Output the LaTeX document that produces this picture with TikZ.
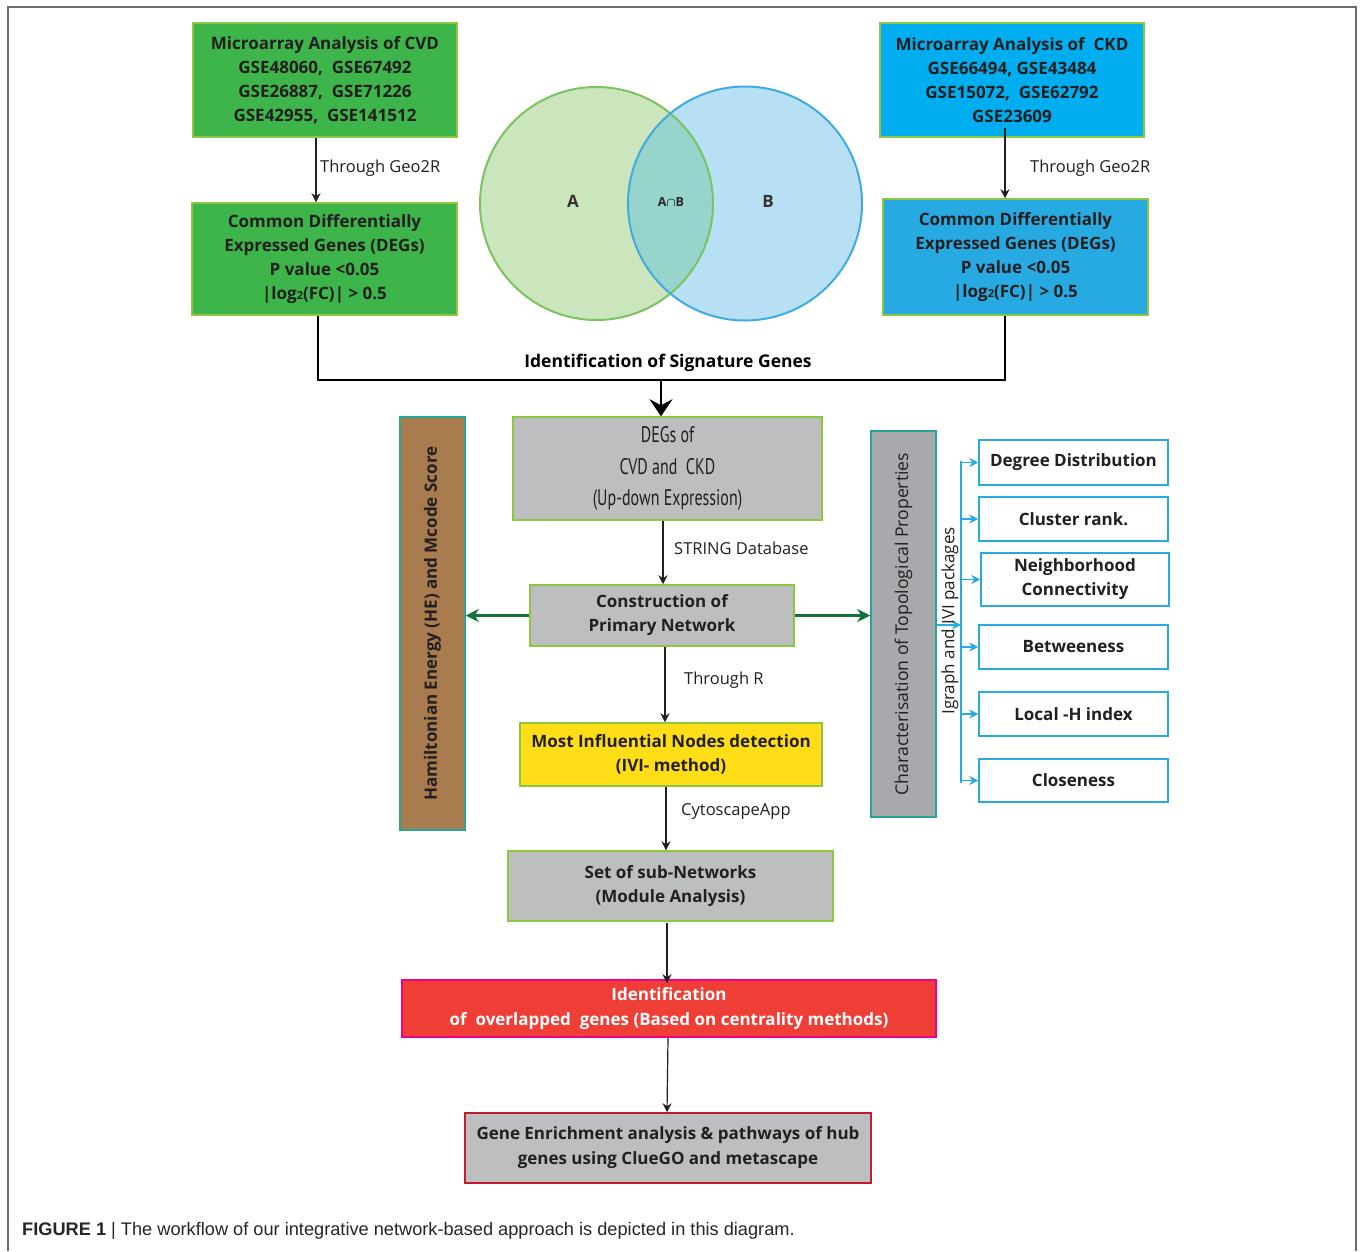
\documentclass[tikz,border=0pt]{standalone}
\usepackage{fontspec}
\setmainfont{Open Sans}
\newfontfamily\condfont[FakeStretch=0.71]{PT Sans}
\newfontfamily\capfont{Liberation Sans}
\usetikzlibrary{arrows.meta,calc}
\definecolor{lgreen}{RGB}{141,198,63}
\definecolor{cvdgreen}{RGB}{61,181,74}
\definecolor{ckdA}{RGB}{0,174,239}
\definecolor{ckdB}{RGB}{39,170,225}
\definecolor{boxgray}{RGB}{188,190,192}
\definecolor{chargray}{RGB}{167,169,172}
\definecolor{hebrown}{RGB}{169,124,80}
\definecolor{tealb}{RGB}{38,166,154}
\definecolor{ivi}{RGB}{255,222,23}
\definecolor{redfill}{RGB}{239,62,54}
\definecolor{magb}{RGB}{236,0,140}
\definecolor{darkred}{RGB}{190,30,45}
\definecolor{arrgreen}{RGB}{20,115,60}
\definecolor{lineblue}{RGB}{39,170,225}
\definecolor{vgfill}{RGB}{203,229,188}
\definecolor{vgline}{RGB}{125,194,96}
\definecolor{vbfill}{RGB}{183,224,245}
\definecolor{vbline}{RGB}{65,171,225}
\definecolor{vover}{RGB}{151,212,203}
\definecolor{txt}{RGB}{35,31,32}
\definecolor{framegray}{RGB}{110,110,110}
\tikzset{
  box/.style={draw=lgreen, line width=1.5pt, inner sep=0pt, align=center, text=txt,
    font=\bfseries\fontsize{17}{24}\selectfont},
  sidebox/.style={draw=tealb, line width=1.5pt, inner sep=0pt, align=center, text=txt},
  propbox/.style={draw=lineblue, fill=white, line width=1.5pt, inner sep=0pt, align=center,
    text=txt, minimum width=189pt, font=\bfseries\fontsize{17}{24}\selectfont},
  lbl/.style={anchor=west, inner sep=0pt, text=txt, font=\fontsize{16.5}{20}\selectfont},
  flow/.style={line width=1.2pt, txt, -{Stealth[length=9pt,width=9pt,inset=3pt]}},
  garrow/.style={line width=2.2pt, arrgreen, -{Stealth[length=13pt,width=13pt,inset=4pt]}},
  barrow/.style={line width=1.3pt, lineblue, -{Stealth[length=9pt,width=9pt,inset=3pt]}},
  thickline/.style={line width=2.8pt, black},
}
\begin{document}
\begin{tikzpicture}[x=1pt,y=-1pt]
\useasboundingbox (0,0) rectangle (1360,1251);
\fill[white] (0,0) rectangle (1360,1251);
% frame
\draw[framegray, line width=1.6pt] (8,1251) -- (8,7) -- (1356,7) -- (1356,1251);

% Venn diagram
\fill[vgfill] (596.5,203.5) circle (116.5);
\fill[vbfill] (745,203.5) circle (117);
\begin{scope}
  \clip (596.5,203.5) circle (116.5);
  \fill[vover] (745,203.5) circle (117);
\end{scope}
\draw[vgline, line width=2pt] (596.5,203.5) circle (116.5);
\draw[vbline, line width=2pt] (745,203.5) circle (117);
\node[font=\bfseries\fontsize{17}{20}\selectfont, text=black!80] (vA) at (573,201) {A};
\node[font=\bfseries\boldmath\fontsize{12.5}{14}\selectfont, text=black!85] (vAB) at (671,202) {A$\cap$B};
\node[font=\bfseries\fontsize{17}{20}\selectfont, text=black!80] (vB) at (768,201) {B};

% CVD side
\node[box, fill=cvdgreen, minimum width=264pt, minimum height=114pt] (cvd1) at (325,80)
  {Microarray Analysis of CVD\\GSE48060,\ \ GSE67492\\GSE26887,\ \ GSE71226\\GSE42955,\ \ GSE141512};
\node[box, fill=cvdgreen, minimum width=265pt, minimum height=112pt] (cvd2) at (324.5,259)
  {Common Differentially\\Expressed Genes (DEGs)\\P value <0.05\\|log{\fontsize{11}{12}\selectfont 2}(FC)| > 0.5};
\draw[flow] ([xshift=-9pt]cvd1.south) -- ([xshift=-8.5pt]cvd2.north);
\node[lbl] (g1) at (320,168) {Through Geo2R};

% CKD side
\node[box, fill=ckdA, minimum width=264pt, minimum height=114pt] (ckd1) at (1012,80)
  {Microarray Analysis of\ \ CKD\\GSE66494, GSE43484\\GSE15072,\ \ GSE62792\\GSE23609};
\node[box, fill=ckdB, minimum width=265pt, minimum height=116pt] (ckd2) at (1015.5,257)
  {Common Differentially\\Expressed Genes (DEGs)\\P value <0.05\\|log{\fontsize{11}{12}\selectfont 2}(FC)| > 0.5};
\draw[flow] ([xshift=-7pt,yshift=10pt]ckd1.south) -- ([xshift=-10.5pt]ckd2.north);
\node[lbl] (g2) at (1030,168) {Through Geo2R};

% signature genes bracket
\coordinate (jl) at (318,380);
\coordinate (jr) at (1005,380);
\coordinate (jm) at (661,380);
\draw[thickline] (cvd2.south -| jl) -- (jl) -- (jr) -- (ckd2.south -| jr);
\node[font=\bfseries\fontsize{17.5}{20}\selectfont, text=black] (sig) at (668,363) {Identification of Signature Genes};

% DEGs box
\node[box, fill=boxgray, minimum width=309pt, minimum height=103pt,
      font=\condfont\fontsize{22.5}{31.5}\selectfont] (degs) at (667.5,468.5)
  {DEGs of\\CVD and\ \ CKD\\(Up-down Expression)};
\draw[line width=2.8pt, black, -{Stealth[length=17pt,width=23pt,inset=6pt]}] (jm) -- (degs.north -| jm);

% construction
\node[box, fill=boxgray, minimum width=264pt, minimum height=61pt] (cons) at (662,615.5)
  {Construction of\\Primary Network};
\draw[flow] ([xshift=-4.5pt]degs.south) -- ([xshift=1pt]cons.north);
\node[lbl] (sdb) at (674,548) {STRING Database};

% side boxes
\node[sidebox, fill=hebrown, minimum width=65pt, minimum height=413pt] (he) at (432.5,623.5) {};
\node[rotate=90, font=\bfseries\fontsize{17}{20}\selectfont, text=txt] (het) at (he.center)
  {Hamiltonian Energy (HE) and Mcode Score};
\node[sidebox, fill=chargray, minimum width=65pt, minimum height=386pt] (char) at (903.5,624) {};
\node[rotate=90, font=\fontsize{17.6}{20}\selectfont, text=txt] (chart) at (char.center)
  {Characterisation of Topological Properties};
\draw[garrow] (cons.west) -- (he.east |- cons.west);
\draw[garrow] (cons.east) -- (char.west |- cons.east);

% property boxes
\node[propbox, minimum height=45pt] (dd) at (1073.5,462.5) {Degree Distribution};
\node[propbox, minimum height=44pt] (cr) at (1073.5,519) {Cluster rank.};
\node[propbox, minimum height=53pt, minimum width=188pt] (nc) at (1075,579.5) {Neighborhood\\Connectivity};
\node[propbox, minimum height=44pt] (bt) at (1073.5,647) {Betweeness};
\node[propbox, minimum height=44pt] (lh) at (1073.5,714) {Local -H index};
\node[propbox, minimum height=43pt] (cl) at (1073.5,780.5) {Closeness};
\coordinate (bustop) at (961,461);
\coordinate (busbot) at (961,783);
\coordinate (busin) at (961,625);
\draw[lineblue, line width=1.3pt] (bustop) -- (busbot);
\draw[barrow] (char.east |- busin) -- (busin);
\foreach \b in {dd,cr,nc,bt,lh,cl}{
  \draw[barrow] (\b.west -| bustop) -- (\b.west);
}
\node[rotate=90, font=\fontsize{17}{18}\selectfont, text=txt] (igr) at (950,621) {Igraph and IVI packages};

% IVI
\node[box, fill=ivi, minimum width=302pt, minimum height=63pt] (ivi) at (671,754.5)
  {Most Influential Nodes detection\\(IVI- method)};
\draw[flow] ([xshift=3pt]cons.south) -- ([xshift=-6pt]ivi.north);
\node[lbl] (thr) at (684,680) {Through R};

% sub networks
\node[box, fill=boxgray, minimum width=325pt, minimum height=70pt] (sub) at (670.5,886)
  {Set of sub-Networks\\(Module Analysis)};
\draw[flow] ([xshift=-5pt]ivi.south) -- ([xshift=-4.5pt]sub.north);
\node[lbl] (cyt) at (681,811) {CytoscapeApp};

% overlapped genes
\node[box, draw=magb, fill=redfill, text=white, minimum width=534pt, minimum height=57pt,
      font=\bfseries\fontsize{17}{24.5}\selectfont] (ovl) at (669,1008.5)
  {Identification\\of\ \ overlapped\ \ genes (Based on centrality methods)};
\draw[flow] ([xshift=-3.5pt,yshift=-1pt]sub.south) -- ([xshift=-2pt,yshift=-4pt]ovl.north);

% enrichment
\node[box, draw=darkred, fill=boxgray, minimum width=406pt, minimum height=70pt,
      font=\bfseries\fontsize{17}{25}\selectfont] (enr) at (668,1148)
  {Gene Enrichment analysis \& pathways of hub\\genes using ClueGO and metascape};
\draw[flow] ([xshift=-1pt]ovl.south) -- ([xshift=-1pt]enr.north);

% caption
\node[anchor=west, inner sep=0pt, font=\capfont\fontsize{18.2}{20}\selectfont, text=black!85] (cap) at (22,1231)
  {\textbf{FIGURE 1} | The workflow of our integrative network-based approach is depicted in this diagram.};
\end{tikzpicture}
\end{document}
